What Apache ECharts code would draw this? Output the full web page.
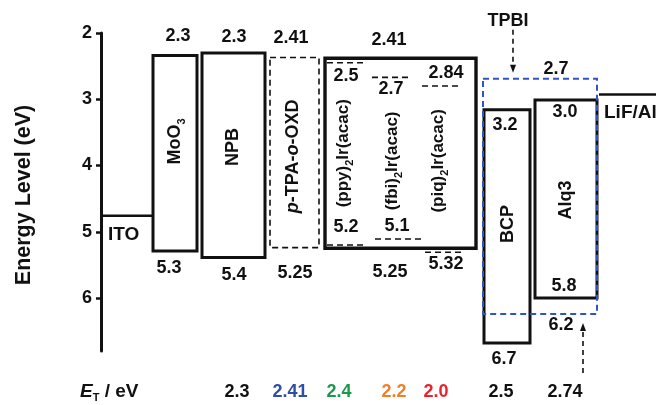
<!DOCTYPE html>
<html><head><meta charset="utf-8">
<script src="https://cdn.jsdelivr.net/npm/echarts@6/dist/echarts.min.js"></script>
<style>html,body{margin:0;padding:0;background:#fff}#c{width:656px;height:405px}</style>
</head><body><div id="c"></div>
<script>
// ---------------- data ----------------
const yTicks = [2, 3, 4, 5, 6];
const yAxisTitle = 'Energy Level (eV)';
const layerNames = ['MoO3', 'NPB', 'p-TPA-o-OXD', 'host', 'BCP', 'Alq3', 'TPBI'];
const layerLumo = [2.34, 2.30, 2.37, 2.38, 3.16, 3.01, 2.69];
const layerHomo = [5.29, 5.39, 5.24, 5.25, 6.68, 6.00, 6.24];
const lumoText = ['2.3', '2.3', '2.41', '2.41', '3.2', '3.0', '2.7'];
const homoText = ['5.3', '5.4', '5.25', '5.25', '6.7', '5.8', '6.2'];
const dopantNames = ['(ppy)2Ir(acac)', '(fbi)2Ir(acac)', '(piq)2Ir(acac)'];
const dopantLumo = [2.45, 2.67, 2.80];
const dopantHomo = [5.20, 5.11, 5.31];
const dopantLumoText = ['2.5', '2.7', '2.84'];
const dopantHomoText = ['5.2', '5.1', '5.32'];
const electrodeNames = ['ITO', 'LiF/Al'];
const electrodeLevel = [4.76, 2.93];
const tripletText = ['2.3', '2.41', '2.4', '2.2', '2.0', '2.5', '2.74'];

// ---------------- layout (x in axis units, offsets in px) ----------------
const layerSpan = [[52, 96], [101, 164], [169, 218], [224, 375], [383, 429], [434, 496], [382, 496]];
const layerKind = ['solid', 'solid', 'dash', 'thick', 'solid', 'solid', 'blue'];
const layerNameAt = [[74, 0.44], [132, 0.46], [192, 0.52], null, [407, 0.49], [465, 0.505], null];
const lumoTextAt = [[77, -19], [133, -16], [190, -19], [288, -18], [404, 15], [464, 12], [455, -10]];
const homoTextAt = [[68, 17], [133, 17], [194, 25], [289, 24], [403, 16], [463, -12], [460, 11]];
const dopantNameX = [242, 291, 337];
const dopantNameFrac = [0.50, 0.54, 0.54];
const dopantLumoSpan = [[226, 266], [271, 311], [321, 361]];
const dopantHomoSpan = [[226, 266], [274, 321], [324, 364]];
const dopantLumoTextAt = [[245, 13], [290, 12], [345, -13]];
const dopantHomoTextAt = [[245, -18], [296, -13], [345, 12]];
const electrodeSpan = [[0, 52], [498, 556]];
const electrodeTextAt = [[7, 19], [503, 18]];
const tripletX = [136, 189, 238, 293, 335, 400, 464];
const tripletColor = ['#111', '#2f4fa6', '#1a9a4a', '#f07f2a', '#e8242a', '#111', '#111'];
const tripletRowValue = 7.42;

const FONT = '"Liberation Sans", Arial, Helvetica, sans-serif';
const NUM = 18;
const SUB = { fontSize: 11, fontWeight: 'bold', fontFamily: FONT, verticalAlign: 'bottom', lineHeight: 12, fill: '#111' };

function richName(name) {
  if (name === 'MoO3') return 'MoO{sub|3}';
  if (name === 'p-TPA-o-OXD') return '{i|p}-TPA-{i|o}-OXD';
  return name.replace('2Ir', '{sub|2}Ir');
}

// build marks
const marks = [];
layerNames.forEach((n, i) => {
  if (layerKind[i] !== 'blue') marks.push({ t: 'box', i });
});
dopantNames.forEach((n, i) => { marks.push({ t: 'dash', i, lvl: 'lumo' }); marks.push({ t: 'dash', i, lvl: 'homo' }); });
electrodeNames.forEach((n, i) => marks.push({ t: 'elec', i }));
marks.push({ t: 'box', i: layerNames.indexOf('TPBI') });
marks.push({ t: 'arrowTop' });
marks.push({ t: 'arrowBottom' });
layerNames.forEach((n, i) => {
  marks.push({ t: 'lumoText', i });
  marks.push({ t: 'homoText', i });
  if (layerNameAt[i]) marks.push({ t: 'name', i });
});
dopantNames.forEach((n, i) => {
  marks.push({ t: 'dname', i });
  marks.push({ t: 'dlumoText', i });
  marks.push({ t: 'dhomoText', i });
});
electrodeNames.forEach((n, i) => marks.push({ t: 'elecText', i }));
marks.push({ t: 'tpbiText' });
marks.push({ t: 'etLabel' });
tripletText.forEach((s, i) => marks.push({ t: 'trip', i }));

function txt(x, y, text, opt) {
  opt = opt || {};
  return {
    type: 'text', x: x, y: y, rotation: opt.rot || 0,
    style: {
      text: text, fill: opt.fill || '#111', fontSize: opt.size || NUM, fontWeight: 'bold',
      fontFamily: FONT, align: opt.align || 'center', verticalAlign: 'middle',
      lineHeight: opt.lh, rich: opt.rich
    }
  };
}

function renderItem(params, api) {
  const m = marks[params.dataIndex];
  const c = (x, v) => api.coord([x, v]);
  const tpbi = layerNames.indexOf('TPBI');
  switch (m.t) {
    case 'box': {
      const s = layerSpan[m.i];
      const a = c(s[0], layerLumo[m.i]), b = c(s[1], layerHomo[m.i]);
      const k = layerKind[m.i];
      const style = { fill: 'none', stroke: '#111', lineWidth: 3 };
      if (k === 'dash') { style.lineWidth = 1.6; style.lineDash = [6, 4]; }
      if (k === 'thick') { style.lineWidth = 3.4; }
      if (k === 'blue') { style.stroke = '#2f55c4'; style.lineWidth = 2; style.lineDash = [6, 4]; }
      return { type: 'rect', shape: { x: a[0], y: a[1], width: b[0] - a[0], height: b[1] - a[1] }, style };
    }
    case 'dash': {
      const s = m.lvl === 'lumo' ? dopantLumoSpan[m.i] : dopantHomoSpan[m.i];
      const v = m.lvl === 'lumo' ? dopantLumo[m.i] : dopantHomo[m.i];
      const a = c(s[0], v), b = c(s[1], v);
      return { type: 'line', shape: { x1: a[0], y1: a[1], x2: b[0], y2: b[1] }, style: { stroke: '#111', lineWidth: 1.6, lineDash: [6, 4] } };
    }
    case 'elec': {
      const s = electrodeSpan[m.i];
      const a = c(s[0], electrodeLevel[m.i]), b = c(s[1], electrodeLevel[m.i]);
      return { type: 'line', shape: { x1: a[0], y1: a[1], x2: b[0], y2: b[1] }, style: { stroke: '#111', lineWidth: 2.5 } };
    }
    case 'arrowTop':
    case 'arrowBottom': {
      const top = m.t === 'arrowTop';
      const x = top ? 412 : 482;
      const p = c(x, top ? layerLumo[tpbi] : layerHomo[tpbi]);
      const y0 = top ? p[1] - 49 : p[1] + 59;
      const tip = top ? p[1] - 6 : p[1] + 9;
      const dir = top ? 1 : -1;
      return {
        type: 'group', children: [
          { type: 'line', shape: { x1: p[0], y1: y0, x2: p[0], y2: tip - dir * 6 }, style: { stroke: '#111', lineWidth: 1.6, lineDash: [5, 4] } },
          { type: 'polygon', shape: { points: [[p[0] - 3, tip - dir * 8], [p[0] + 3, tip - dir * 8], [p[0], tip]] }, style: { fill: '#111' } }
        ]
      };
    }
    case 'lumoText': {
      const q = lumoTextAt[m.i]; const p = c(q[0], layerLumo[m.i]);
      return txt(p[0], p[1] + q[1], lumoText[m.i]);
    }
    case 'homoText': {
      const q = homoTextAt[m.i]; const p = c(q[0], layerHomo[m.i]);
      return txt(p[0], p[1] + q[1], homoText[m.i]);
    }
    case 'name': {
      const q = layerNameAt[m.i];
      const v = layerLumo[m.i] + q[1] * (layerHomo[m.i] - layerLumo[m.i]);
      const p = c(q[0], v);
      return txt(p[0], p[1], richName(layerNames[m.i]), {
        rot: Math.PI / 2, size: 18, lh: 24,
        rich: { sub: SUB, i: { fontStyle: 'italic', fontWeight: 'bold', fontSize: 18, fontFamily: FONT, lineHeight: 24, fill: '#111' } }
      });
    }
    case 'dname': {
      const h = layerNames.indexOf('host');
      const v = layerLumo[h] + dopantNameFrac[m.i] * (layerHomo[h] - layerLumo[h]);
      const p = c(dopantNameX[m.i], v);
      return txt(p[0], p[1], richName(dopantNames[m.i]), { rot: Math.PI / 2, size: 17, lh: 24, rich: { sub: SUB } });
    }
    case 'dlumoText': {
      const q = dopantLumoTextAt[m.i]; const p = c(q[0], dopantLumo[m.i]);
      return txt(p[0], p[1] + q[1], dopantLumoText[m.i]);
    }
    case 'dhomoText': {
      const q = dopantHomoTextAt[m.i]; const p = c(q[0], dopantHomo[m.i]);
      return txt(p[0], p[1] + q[1], dopantHomoText[m.i]);
    }
    case 'elecText': {
      const q = electrodeTextAt[m.i]; const p = c(q[0], electrodeLevel[m.i]);
      return txt(p[0], p[1] + q[1], electrodeNames[m.i], { align: 'left', size: 19 });
    }
    case 'tpbiText': {
      const p = c(407, layerLumo[tpbi]);
      return txt(p[0], p[1] - 58, 'TPBI');
    }
    case 'etLabel': {
      const p = c(-21, tripletRowValue);
      return txt(p[0], p[1], '{e|E}{sub|T} / eV', {
        align: 'left', lh: 22, size: 19,
        rich: { e: { fontStyle: 'italic', fontWeight: 'bold', fontSize: 19, fontFamily: FONT, lineHeight: 22, fill: '#111' }, sub: SUB }
      });
    }
    case 'trip': {
      const p = c(tripletX[m.i], tripletRowValue);
      return txt(p[0], p[1], tripletText[m.i], { fill: tripletColor[m.i] });
    }
  }
}

const chart = echarts.init(document.getElementById('c'), null, { renderer: 'canvas' });
chart.setOption({
  animation: false,
  backgroundColor: '#fff',
  grid: { left: 101, top: 33, width: 555, height: 318, containLabel: false },
  xAxis: { type: 'value', min: 0, max: 555, show: false },
  yAxis: {
    type: 'value', inverse: true, min: 2, max: 6.8, interval: 1,
    axisLine: { show: true, lineStyle: { color: '#111', width: 3 } },
    axisTick: { show: true, length: 5, customValues: yTicks, lineStyle: { color: '#111', width: 2.5 } },
    axisLabel: {
      customValues: yTicks, margin: 9, fontSize: 18, fontWeight: 'bold', fontFamily: FONT, color: '#111',
      formatter: v => (Number.isInteger(v) ? String(v) : '')
    },
    splitLine: { show: false }
  },
  graphic: [{
    type: 'text', x: 24, y: 195, rotation: Math.PI / 2,
    style: { text: yAxisTitle, fontSize: 21.5, fontWeight: 'bold', fontFamily: FONT, fill: '#111', align: 'center', verticalAlign: 'middle' }
  }],
  series: [{
    type: 'custom', renderItem, clip: false,
    data: marks.map((m, i) => [i]),
    encode: { x: -1, y: -1 },
    silent: true
  }]
});
</script></body></html>
